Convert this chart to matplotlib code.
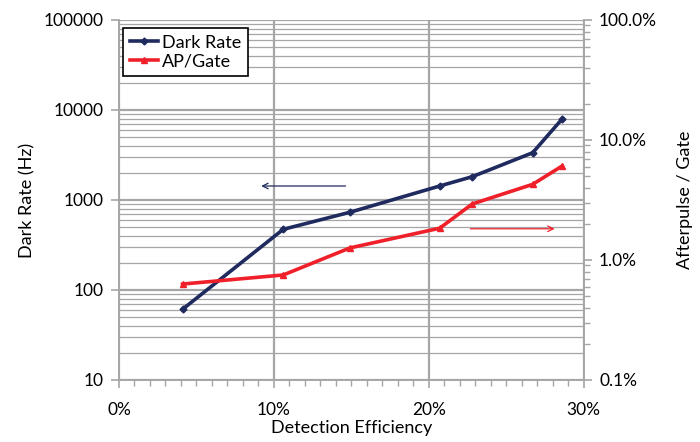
import matplotlib
matplotlib.use("Agg")
import matplotlib.pyplot as plt
from matplotlib.ticker import LogLocator, NullFormatter, FuncFormatter, MultipleLocator

plt.rcParams['font.family'] = ['Lato', 'DejaVu Sans']

# data
efficiency = [4.1, 10.6, 14.9, 20.7, 22.8, 26.7, 28.6]          # %
dark_rate = [61, 472, 730, 1430, 1815, 3350, 7940]               # Hz
ap_gate = [0.63, 0.75, 1.26, 1.84, 2.93, 4.27, 6.07]             # %

navy = '#1f2a5e'
red = '#f0202a'
grid_c = '#a6a6a6'

fig = plt.figure(figsize=(7, 4.42), dpi=100)
ax = fig.add_axes([0.17, 0.1403, 0.664, 0.8145])
ax2 = ax.twinx()

ax.set_yscale('log')
ax.set_ylim(10, 100000)
ax.set_xlim(0, 30)
ax2.set_yscale('log')
ax2.set_ylim(0.1, 100)

# grid
ax.yaxis.set_major_locator(LogLocator(base=10))
ax.yaxis.set_minor_locator(LogLocator(base=10, subs=range(2, 10)))
ax.yaxis.set_minor_formatter(NullFormatter())
ax.grid(which='major', axis='y', color=grid_c, lw=1.6)
ax.grid(which='minor', axis='y', color=grid_c, lw=0.9)
ax.xaxis.set_major_locator(MultipleLocator(10))
ax.xaxis.set_minor_locator(MultipleLocator(1))
ax.grid(which='major', axis='x', color=grid_c, lw=1.6)
ax.set_axisbelow(True)

ax.xaxis.set_major_formatter(FuncFormatter(lambda v, p: f'{v:.0f}%'))
ax.yaxis.set_major_formatter(FuncFormatter(lambda v, p: f'{v:.0f}'))
ax2.yaxis.set_major_locator(LogLocator(base=10))
ax2.yaxis.set_minor_locator(LogLocator(base=10, subs=range(2, 10)))
ax2.yaxis.set_minor_formatter(NullFormatter())
ax2.yaxis.set_major_formatter(FuncFormatter(lambda v, p: f'{v:.1f}%'))

for a in (ax, ax2):
    for s in a.spines.values():
        s.set_color(grid_c)
        s.set_linewidth(1.2)
    a.spines['top'].set_visible(False)
ax.tick_params(axis='both', which='both', color=grid_c, labelsize=12.5, direction='out')
ax.tick_params(axis='x', which='major', length=6, width=1.2, pad=10)
ax.tick_params(axis='x', which='minor', length=4, width=1)
ax.tick_params(axis='y', which='major', length=6, width=1.2, pad=5)
ax.tick_params(axis='y', which='minor', length=0)
ax2.tick_params(axis='y', which='both', color=grid_c, labelsize=12.5, direction='out')
ax2.tick_params(axis='y', which='major', length=6, width=1.2, pad=5)
ax2.tick_params(axis='y', which='minor', length=4, width=1)

l1, = ax.plot(efficiency, dark_rate, color=navy, lw=2.6, marker='D', ms=3.5, label='Dark Rate', zorder=5)
l2, = ax2.plot(efficiency, ap_gate, color=red, lw=2.6, marker='^', ms=4.5, label='AP/Gate', zorder=5)

ax.set_xlabel('Detection Efficiency', fontsize=13, labelpad=1)
ax.set_ylabel('Dark Rate (Hz)', fontsize=13, labelpad=6)
ax2.set_ylabel('Afterpulse / Gate', fontsize=13, labelpad=14)

# axis indicator arrows
ax.annotate('', xy=(9.0, 1430), xytext=(14.8, 1430),
            arrowprops=dict(arrowstyle='->', color=navy, lw=0.9))
ax2.annotate('', xy=(28.3, 1.82), xytext=(22.5, 1.82),
             arrowprops=dict(arrowstyle='->', color=red, lw=0.9))

leg = ax.legend(handles=[l1, l2], loc='upper left', bbox_to_anchor=(0.009, 0.977),
                fontsize=13, frameon=True, fancybox=False, framealpha=1,
                edgecolor='black', handlelength=1.6, handletextpad=0.2,
                borderpad=0.35, labelspacing=0.15, borderaxespad=0)
leg.get_frame().set_linewidth(1.2)
leg.set_zorder(10)

fig.savefig('out.png', dpi=100)
